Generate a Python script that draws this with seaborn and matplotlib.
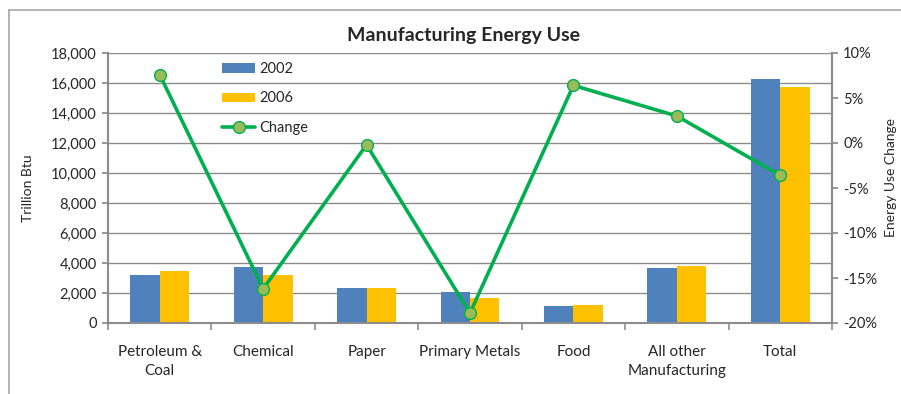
import numpy as np
import pandas as pd
import matplotlib
matplotlib.use("Agg")
import matplotlib.pyplot as plt
from matplotlib.lines import Line2D
from matplotlib.patches import Patch
from matplotlib.ticker import FuncFormatter, FixedLocator, NullFormatter
import seaborn as sns

categories = ["Petroleum &\nCoal", "Chemical", "Paper", "Primary Metals", "Food",
              "All other\nManufacturing", "Total"]
use_2002 = [3200, 3750, 2350, 2100, 1150, 3700, 16250]
use_2006 = [3450, 3200, 2350, 1700, 1200, 3820, 15700]
change_pct = [7.6, -16.2, -0.2, -18.9, 6.4, 3.0, -3.6]
years = ["2002", "2006"]

blue = "#4F81BD"
gold = "#FFC000"
green = "#00B050"
olive = "#9BBB59"
grid_gray = "#8C8C8C"

sns.set_theme(style="white")
plt.rcParams["font.family"] = ["Lato", "DejaVu Sans"]

df = pd.DataFrame({
    "category": categories * 2,
    "year": [years[0]] * len(categories) + [years[1]] * len(categories),
    "value": use_2002 + use_2006,
})

fig = plt.figure(figsize=(9.01, 3.94), dpi=100)
ax = fig.add_axes([108 / 901, 1 - 323 / 394, (832 - 108) / 901, (323 - 53) / 394])

sns.barplot(data=df, x="category", y="value", hue="year", order=categories,
            palette=[blue, gold], width=0.57, gap=0, saturation=1,
            edgecolor="none", linewidth=0, legend=False, ax=ax, zorder=2)

ax.set_ylim(0, 18000)
ax.set_xlim(-0.5, len(categories) - 0.5)
ax.set_yticks(np.arange(0, 18001, 2000))
ax.yaxis.set_major_formatter(FuncFormatter(lambda v, p: f"{int(v):,}"))
ax.grid(axis="y", color=grid_gray, linewidth=1.0, zorder=0)
ax.set_axisbelow(True)
ax.set_xlabel("")
ax.set_ylabel("Trillion Btu", fontsize=10, labelpad=12)
ax.tick_params(axis="y", labelsize=10.5, length=4, direction="out", color=grid_gray,
               left=True, pad=4)

# category labels sit between boundary ticks
ax.set_xticks(np.arange(len(categories)))
ax.set_xticklabels(categories, fontsize=11, linespacing=1.45)
ax.tick_params(axis="x", length=0, pad=16)
ax.xaxis.set_minor_locator(FixedLocator(np.arange(-0.5, len(categories), 1.0)))
ax.xaxis.set_minor_formatter(NullFormatter())
ax.tick_params(axis="x", which="minor", length=5, direction="out", color=grid_gray,
               bottom=True, width=1.2)

for side in ["left", "bottom", "right"]:
    ax.spines[side].set_color(grid_gray)
    ax.spines[side].set_linewidth(1.5)
ax.spines["top"].set_visible(False)

ax2 = ax.twinx()
sns.lineplot(x=np.arange(len(categories)), y=change_pct, ax=ax2, sort=False,
             color=green, linewidth=2.6, marker="o", markersize=8.5,
             markerfacecolor=olive, markeredgecolor=green, markeredgewidth=1.0,
             zorder=5)
ax2.set_ylim(-20, 10)
ax2.set_xlim(-0.5, len(categories) - 0.5)
ax2.set_yticks(np.arange(-20, 11, 5))
ax2.yaxis.set_major_formatter(FuncFormatter(lambda v, p: f"{int(v)}%"))
ax2.tick_params(axis="y", labelsize=10.5, length=4, direction="out", color=grid_gray,
                right=True, pad=4)
for side in ["left", "bottom", "top"]:
    ax2.spines[side].set_visible(False)
ax2.spines["right"].set_color(grid_gray)
ax2.spines["right"].set_linewidth(1.5)
ax2.set_ylabel("")
ax2.grid(False)

fig.text(891 / 901, 1 - 177 / 394, "Energy Use Change", rotation=90, fontsize=10,
         ha="center", va="center")

fig.suptitle("Manufacturing Energy Use", x=463 / 901, y=1 - 36 / 394, va="center",
             fontsize=14, fontweight="bold")

handles = [
    Patch(facecolor=blue, edgecolor="none", label=years[0]),
    Patch(facecolor=gold, edgecolor="none", label=years[1]),
    Line2D([0], [0], color=green, linewidth=2.6, marker="o", markersize=8.5,
           markerfacecolor=olive, markeredgecolor=green, label="Change"),
]
leg = ax2.legend(handles=handles, loc="upper left", bbox_to_anchor=(0.14, 1.015),
                 frameon=False, fontsize=10.5, handlelength=2.2, handleheight=0.6,
                 handletextpad=0.3, labelspacing=1.05)

# outer chart-area border (top and left edges)
fig.add_artist(Line2D([9 / 901, 1.0], [1 - 10 / 394, 1 - 10 / 394],
                      transform=fig.transFigure, color="#A6A6A6", linewidth=1.2))
fig.add_artist(Line2D([9 / 901, 9 / 901], [1 - 10 / 394, 0.0],
                      transform=fig.transFigure, color="#A6A6A6", linewidth=1.2))

fig.savefig("out.png", dpi=100, facecolor="white")
